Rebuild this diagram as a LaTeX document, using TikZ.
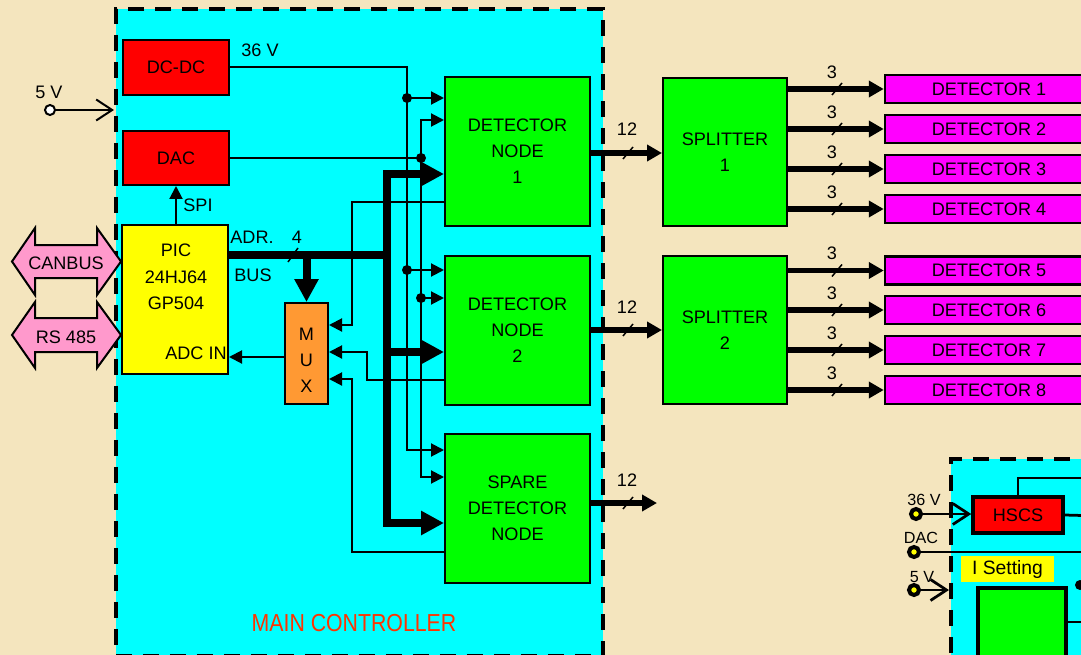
\documentclass[tikz,border=0pt]{standalone}
\usepackage{fontspec}
\setmainfont{Liberation Sans}
\usepackage{graphicx}
\usetikzlibrary{arrows.meta}
\newcommand\pxu{0.02cm}
\definecolor{bgbeige}{RGB}{244,229,190}
\definecolor{ccyan}{RGB}{0,255,255}
\definecolor{cgreen}{RGB}{0,255,0}
\definecolor{cred}{RGB}{255,0,0}
\definecolor{cyellow}{RGB}{255,255,0}
\definecolor{cmag}{RGB}{255,0,255}
\definecolor{corange}{RGB}{255,153,51}
\definecolor{cpink}{RGB}{255,153,204}
\definecolor{ctitle}{RGB}{255,51,0}
\tikzset{
  tipS/.tip={Triangle[length=0.26cm,width=0.26cm]},
  tipB/.tip={Triangle[length=0.46cm,width=0.46cm]},
  tipM/.tip={Triangle[length=0.3cm,width=0.32cm]},
  tipBarb/.tip={Straight Barb[length=0.32cm,width=0.42cm]},
}
\begin{document}
\begin{tikzpicture}[x=0.02cm,y=-0.02cm,
  txt/.style={font=\fontsize{10.3}{14.7}\selectfont, inner sep=0pt, align=center},
  smalltxt/.style={font=\fontsize{9.2}{10}\selectfont, inner sep=0pt},
  box/.style={draw, line width=0.04cm, inner sep=0pt, txt},
  detbox/.style={box, fill=cmag, line width=0.05cm, minimum width=208*\pxu, minimum height=28*\pxu},
  dnbox/.style={box, fill=cgreen, minimum width=145*\pxu, minimum height=149*\pxu},
  spbox/.style={box, fill=cgreen, minimum width=124*\pxu, minimum height=148*\pxu},
  redbox/.style={box, fill=cred, minimum width=106*\pxu, minimum height=55*\pxu},
  mcbox/.style={draw, fill=ccyan, line width=0.08cm, dash pattern=on 0.32cm off 0.22cm, inner sep=0pt},
  wire/.style={line width=0.04cm},
  wiretwo/.style={line width=0.055cm},
  bus/.style={line width=0.16cm},
  outw/.style={line width=0.11cm},
  slash/.style={line width=0.03cm},
  dot/.style={fill=black},
  pinkarr/.style={draw, fill=cpink, line width=0.04cm, line join=miter},
  opencirc/.style={circle, draw, fill=white, line width=0.04cm, minimum size=0.2cm, inner sep=0pt},
  term/.style={circle, draw, fill=cyellow, line width=0.08cm, minimum size=0.2cm, inner sep=0pt},
  title/.style={text=ctitle, font=\fontsize{14}{16}\selectfont, inner sep=0pt},
]
\useasboundingbox (0,0) rectangle (1081,655);
\clip (0,0) rectangle (1081,655);
\fill[bgbeige] (0,0) rectangle (1081,655);

% main controller
\node[mcbox, minimum width=487*\pxu, minimum height=647*\pxu] (mc) at (359.5,332.5) {};
\node[title] (mctitle) at (354,623) {\scalebox{0.865}[1]{MAIN CONTROLLER}};

% boxes
\node[redbox] (dcdc) at (176,67.5) {DC-DC};
\node[redbox, minimum height=54*\pxu] (dac) at (176,158) {DAC};
\node[box, fill=cyellow, minimum width=106*\pxu, minimum height=149*\pxu] (pic) at (175,299.5) {};
\node[txt, font=\fontsize{10.3}{15}\selectfont] (pictext) at (176,277) {PIC\\24HJ64\\GP504};
\node[txt] (adcin) at (196,353) {ADC IN};
\node[box, fill=corange, minimum width=43*\pxu, minimum height=101*\pxu] (mux) at (306.5,353.5) {};
\node[txt, font=\fontsize{10.3}{14.9}\selectfont] (muxtext) at (306.5,360) {M\\U\\X};
\node[dnbox] (dn1) at (517.5,151.5) {DETECTOR\\NODE\\1};
\node[dnbox] (dn2) at (517.5,330.5) {DETECTOR\\NODE\\2};
\node[dnbox] (spare) at (517.5,508.5) {SPARE\\DETECTOR\\NODE};
\node[spbox] (sp1) at (725,152) {SPLITTER\\1};
\node[spbox] (sp2) at (725,330) {SPLITTER\\2};
\foreach \i/\y in {1/89,2/129,3/169,4/209,5/270.5,6/310,7/350,8/390}
  \node[detbox] (det\i) at (989,\y) {DETECTOR \i};

% pink bus arrows
\draw[pinkarr] (12,261.5) -- (35,228) -- (35,245) -- (97,245) -- (97,228) -- (121,261.5) -- (97,295) -- (97,278) -- (35,278) -- (35,295) -- cycle;
\node[txt] (canbus) at (66,263) {CANBUS};
\draw[pinkarr] (12,335) -- (35,302) -- (35,318) -- (97,318) -- (97,302) -- (121,335) -- (97,368) -- (97,352) -- (35,352) -- (35,368) -- cycle;
\node[txt] (rs485) at (66,337) {RS 485};

% 5 V input
\node[opencirc] (v5) at (50,110) {};
\node[txt] (l5v) at (49,92) {5 V};
\draw[wire,-{tipBarb}] (v5.east) -- (mc.west |- v5.east);

% labels
\node[txt] (l36) at (260,50) {36 V};
\node[txt] (lspi) at (198,205) {SPI};
\node[txt] (ladr) at (252,237) {ADR.};
\node[txt] (lbus) at (253,275) {BUS};
\node[txt] (l4) at (297,237) {4};

% SPI
\draw[wire,-{tipS}] (dac.south |- pic.north) -- (dac.south);

% 36 V line
\draw[wire,-{tipS}] (dcdc.east) -| (407,450) -- (spare.west |- 0,450);
\draw[wire,-{tipS}] (407,98) -- (dn1.west |- 0,98);
\draw[wire,-{tipS}] (407,270) -- (dn2.west |- 0,270);
\fill[dot] (407,98) circle[radius=0.1cm];
\fill[dot] (407,270) circle[radius=0.1cm];

% DAC line
\draw[wire] (dac.east) -- (421,158);
\draw[wire,-{tipS}] (421,158) |- (dn1.west |- 0,120);
\draw[wire,-{tipS}] (421,158) |- (spare.west |- 0,477);
\draw[wire,-{tipS}] (421,298) -- (dn2.west |- 0,298);
\fill[dot] (421,158) circle[radius=0.1cm];
\fill[dot] (421,298) circle[radius=0.1cm];

% MUX inputs and output
\draw[wire,-{tipS}] (dn1.west |- 0,202) -| (352,325) -- (mux.east |- 0,325);
\draw[wire,-{tipS}] (dn2.west |- 0,380) -| (367,352) -- (mux.east |- 0,352);
\draw[wire,-{tipS}] (spare.west |- 0,552) -| (352,379) -- (mux.east |- 0,379);
\draw[wire,-{tipS}] (mux.west |- 0,357) -- (pic.east |- 0,357);

% address bus
\draw[bus] (pic.east |- 0,255) -- (387,255);
\draw[bus,{tipB}-{tipB}] (dn1.west |- 0,174) -- (387,174) -- (387,523) -- (spare.west |- 0,523);
\draw[bus,-{tipB}] (387,352) -- (dn2.west |- 0,352);
\draw[bus,-{tipB}] (mux.north |- 0,255) -- (mux.north);
\draw[slash] (288,262) -- (298,248);

% node outputs
\draw[outw,-{tipM}] (dn1.east |- 0,153) -- (sp1.west |- 0,153);
\draw[slash] (623,159) -- (633,147);
\node[txt] (l12a) at (627,129) {12};
\draw[outw,-{tipM}] (dn2.east |- 0,330) -- (sp2.west |- 0,330);
\draw[slash] (623,336) -- (633,324);
\node[txt] (l12b) at (627,307) {12};
\coordinate (spout) at (657,503);
\draw[outw,-{tipM}] (spare.east |- spout) -- (spout);
\draw[slash] (623,509) -- (633,497);
\node[txt] (l12c) at (627,480) {12};

% splitter outputs
\foreach \i/\y/\s in {1/89/sp1,2/129/sp1,3/169/sp1,4/209/sp1,5/270.5/sp2,6/310/sp2,7/350/sp2,8/390/sp2}{
  \draw[outw,-{tipM}] (\s.east |- det\i.west) -- (det\i.west);
  \draw[slash] (832,\y+6) -- (842,\y-6);
  \node[txt] (lthree\i) at (832,\y-17) {3};
}

% second controller (bottom right)
\node[mcbox, minimum width=220*\pxu, minimum height=300*\pxu, anchor=north west] (ctrl2) at (949,457) {};
\node[box, fill=cred, line width=0.07cm, minimum width=90*\pxu, minimum height=36*\pxu] (hscs) at (1018,515) {HSCS};
\node[fill=cyellow, inner sep=0pt, minimum width=93*\pxu, minimum height=26*\pxu, font=\fontsize{11}{13}\selectfont] (iset) at (1007.5,569) {I Setting};
\node[box, fill=cgreen, line width=0.07cm, minimum width=88*\pxu, minimum height=130*\pxu, anchor=north] (gbox) at (1022,586) {};
\node[term] (t36) at (916,514) {};
\node[term] (tdac) at (914,552) {};
\node[term] (t5) at (914,590) {};
\node[smalltxt] (l36b) at (924,500) {36 V};
\node[smalltxt] (ldacb) at (921,538) {DAC};
\node[smalltxt] (l5b) at (922,577) {5 V};
\draw[wiretwo,-{tipBarb}] (t36.east) -- (hscs.west |- t36.east);
\draw[wiretwo] (tdac.east) -- (1100,552);
\draw[wiretwo,-{tipBarb}] (t5.east) -- (ctrl2.west |- t5.east);
\draw[wiretwo] (hscs.north) |- (1100,478);
\draw[wiretwo] (hscs.east) -- (1100,516);
\draw[wiretwo] (gbox.east |- 0,622) -- (1100,622);
\fill[dot] (1080,585) circle[radius=0.1cm];
\end{tikzpicture}
\end{document}
